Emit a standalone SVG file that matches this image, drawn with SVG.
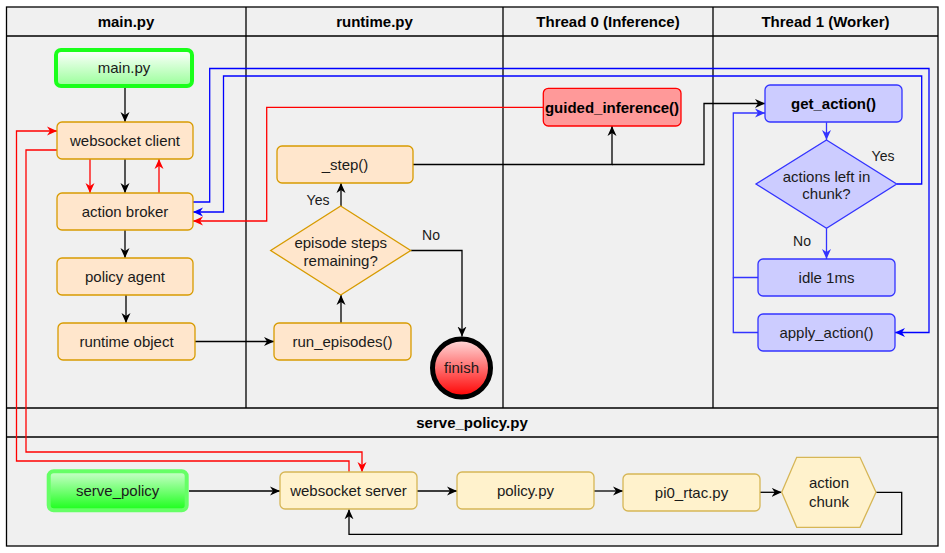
<svg xmlns="http://www.w3.org/2000/svg" width="945" height="553" viewBox="0 0 945 553">
<style>
text{font-family:"Liberation Sans",Arial,sans-serif;font-size:15px;fill:#1a1a1a;text-anchor:middle}
.h{font-weight:bold;fill:#000}
.b{font-weight:bold;fill:#000}
.lbl{font-size:14px}
.lane{fill:none;stroke:#000;stroke-width:1.3}
.or{fill:#ffe6cc;stroke:#d79b00;stroke-width:1.3}
.ye{fill:#fff2cc;stroke:#d6b656;stroke-width:1.3}
.bl{fill:#ccccff;stroke:#3333ff;stroke-width:1.3}
.k{fill:none;stroke:#000;stroke-width:1.3}
.r{fill:none;stroke:#ff0000;stroke-width:1.3}
.u{fill:none;stroke:#0000ff;stroke-width:1.3}
.u2{fill:none;stroke:#3333ff;stroke-width:1.3}
</style>
<defs>
<linearGradient id="gMain" x1="0" y1="0" x2="0" y2="1"><stop offset="0" stop-color="#ffffff"/><stop offset="1" stop-color="#99ff99"/></linearGradient>
<linearGradient id="gServe" x1="0" y1="0" x2="0" y2="1"><stop offset="0" stop-color="#ccffcc"/><stop offset="1" stop-color="#1aff1a"/></linearGradient>
<linearGradient id="gFin" x1="0" y1="0" x2="0" y2="1"><stop offset="0" stop-color="#ffdddd"/><stop offset="1" stop-color="#ff0000"/></linearGradient>
<marker id="ak" markerUnits="userSpaceOnUse" markerWidth="11" markerHeight="10" refX="10" refY="5" orient="auto"><path d="M0,0.5 L10,5 L0,9.5 L3,5 z" fill="#000"/></marker>
<marker id="ar" markerUnits="userSpaceOnUse" markerWidth="11" markerHeight="10" refX="10" refY="5" orient="auto"><path d="M0,0.5 L10,5 L0,9.5 L3,5 z" fill="#ff0000"/></marker>
<marker id="au" markerUnits="userSpaceOnUse" markerWidth="11" markerHeight="10" refX="10" refY="5" orient="auto"><path d="M0,0.5 L10,5 L0,9.5 L3,5 z" fill="#0000ff"/></marker>
<marker id="au2" markerUnits="userSpaceOnUse" markerWidth="11" markerHeight="10" refX="10" refY="5" orient="auto"><path d="M0,0.5 L10,5 L0,9.5 L3,5 z" fill="#3333ff"/></marker>
</defs>

<g id="lanes">
<rect x="6.5" y="7" width="931.5" height="539" fill="#f0f0f0" stroke="#000" stroke-width="1.3"/>
<path class="lane" d="M6.5,36 H938 M246,7 V408 M503,7 V408 M713,7 V408 M6.5,408 H938 M6.5,437 H938"/>
<text class="h" x="126" y="27">main.py</text>
<text class="h" x="374.5" y="27">runtime.py</text>
<text class="h" x="608" y="27">Thread 0 (Inference)</text>
<text class="h" x="825.5" y="27">Thread 1 (Worker)</text>
<text class="h" x="472" y="428">serve_policy.py</text>
</g>

<g id="connectors">
<path class="k" d="M125,88 V122" marker-end="url(#ak)"/>
<path class="k" d="M125,159 V193" marker-end="url(#ak)"/>
<path class="k" d="M125,230 V258" marker-end="url(#ak)"/>
<path class="k" d="M126,295 V323" marker-end="url(#ak)"/>
<path class="k" d="M195,341.5 H274" marker-end="url(#ak)"/>
<path class="k" d="M341,323 V295" marker-end="url(#ak)"/>
<path class="k" d="M341,206 V183" marker-end="url(#ak)"/>
<path class="k" d="M410.7,250.5 H462 V336.5" marker-end="url(#ak)"/>
<path class="k" d="M413,164.5 H612 V126" marker-end="url(#ak)"/>
<path class="k" d="M612,164.5 H704 V103.5 H765" marker-end="url(#ak)"/>
<path class="k" d="M189,491 H280" marker-end="url(#ak)"/>
<path class="k" d="M417,491 H457" marker-end="url(#ak)"/>
<path class="k" d="M594,491 H623" marker-end="url(#ak)"/>
<path class="k" d="M760,492.3 H781.7" stroke-width="2" marker-end="url(#ak)"/>
<path class="k" d="M876,492.3 H901.7 V534.3 H349 V509.3" marker-end="url(#ak)"/>

<path class="r" d="M90,159 V193" marker-end="url(#ar)"/>
<path class="r" d="M159,193 V159" marker-end="url(#ar)"/>
<path class="r" d="M543,107.3 H266.7 V221 H193" marker-end="url(#ar)"/>
<path class="r" d="M57,150 H26 V452 H362 V472" marker-end="url(#ar)"/>
<path class="r" d="M349,472 V461 H16.5 V131 H57" marker-end="url(#ar)"/>

<path class="u" d="M193,202 H209.7 V68.5 H929 V332.5 H895" marker-end="url(#au)"/>
<path class="u" d="M896.7,184 H921.7 V76 H223.5 V212 H193" marker-end="url(#au)"/>

<path class="u2" d="M826.5,122.3 V140" marker-end="url(#au2)"/>
<path class="u2" d="M826.5,228.3 V259" marker-end="url(#au2)"/>
<path class="u2" d="M758,277.5 H733.3 V113 H765" marker-end="url(#au2)"/>
<path class="u2" d="M758,332.5 H733.3 V277.5"/>

<text class="lbl" x="318" y="205">Yes</text>
<text class="lbl" x="431" y="240">No</text>
<text class="lbl" x="883" y="161">Yes</text>
<text class="lbl" x="802" y="246">No</text>
</g>

<g id="n-mainpy"><rect x="56" y="50" width="136" height="36" rx="5" fill="url(#gMain)" stroke="#1aff1a" stroke-width="4"/><text x="124" y="73">main.py</text></g>
<g id="n-wsclient"><rect class="or" x="57" y="122" width="136" height="37" rx="5"/><text x="125" y="146">websocket client</text></g>
<g id="n-broker"><rect class="or" x="57" y="193" width="136" height="37" rx="5"/><text x="125" y="217">action broker</text></g>
<g id="n-agent"><rect class="or" x="57" y="258" width="136" height="37" rx="5"/><text x="125" y="282">policy agent</text></g>
<g id="n-runtime"><rect class="or" x="58" y="323" width="137" height="37" rx="5"/><text x="126.5" y="347">runtime object</text></g>

<g id="n-step"><rect class="or" x="277" y="146" width="136" height="37" rx="5"/><text x="345" y="170">_step()</text></g>
<g id="n-episode"><polygon class="or" points="340.7,206 410.7,250.5 340.7,295 270.7,250.5"/><text x="340.7" y="247.5">episode steps</text><text x="340.7" y="265.5">remaining?</text></g>
<g id="n-runep"><rect class="or" x="274" y="323" width="137" height="37" rx="5"/><text x="342.5" y="347">run_episodes()</text></g>
<g id="n-finish"><circle cx="461.5" cy="368" r="29" fill="url(#gFin)" stroke="#000" stroke-width="5"/><text x="461.5" y="373">finish</text></g>

<g id="n-guided"><rect x="543.3" y="88.3" width="137.7" height="37.7" rx="5" fill="#ff9999" stroke="#ff0000" stroke-width="1.3"/><text class="b" x="612" y="112.5">guided_inference()</text></g>

<g id="n-getaction"><rect class="bl" x="765" y="85" width="137" height="37" rx="5"/><text class="b" x="833.5" y="109">get_action()</text></g>
<g id="n-left"><polygon class="bl" points="826.5,140 896.7,184 826.5,228.3 756,184"/><text x="826.5" y="182">actions left in</text><text x="826.5" y="199">chunk?</text></g>
<g id="n-idle"><rect class="bl" x="758" y="259" width="137" height="37" rx="5"/><text x="826.5" y="283">idle 1ms</text></g>
<g id="n-apply"><rect class="bl" x="758" y="314" width="137" height="37" rx="5"/><text x="826.5" y="338">apply_action()</text></g>

<g id="n-serve"><rect x="48.7" y="471.3" width="138" height="39" rx="5" fill="url(#gServe)" stroke="#66ff66" stroke-width="4"/><text x="117.7" y="496">serve_policy</text></g>
<g id="n-wsserver"><rect class="ye" x="280" y="472" width="137" height="37" rx="5"/><text x="348.5" y="496">websocket server</text></g>
<g id="n-policypy"><rect class="ye" x="457" y="472" width="137" height="37" rx="5"/><text x="525.5" y="496">policy.py</text></g>
<g id="n-pi0"><rect class="ye" x="623" y="474" width="137" height="37" rx="5"/><text x="691.5" y="498">pi0_rtac.py</text></g>
<g id="n-chunk"><polygon class="ye" points="781.7,492.3 796.7,457.3 860,457.3 876,492.3 860,527.3 796.7,527.3"/><text x="829" y="488">action</text><text x="829" y="507">chunk</text></g>
</svg>
